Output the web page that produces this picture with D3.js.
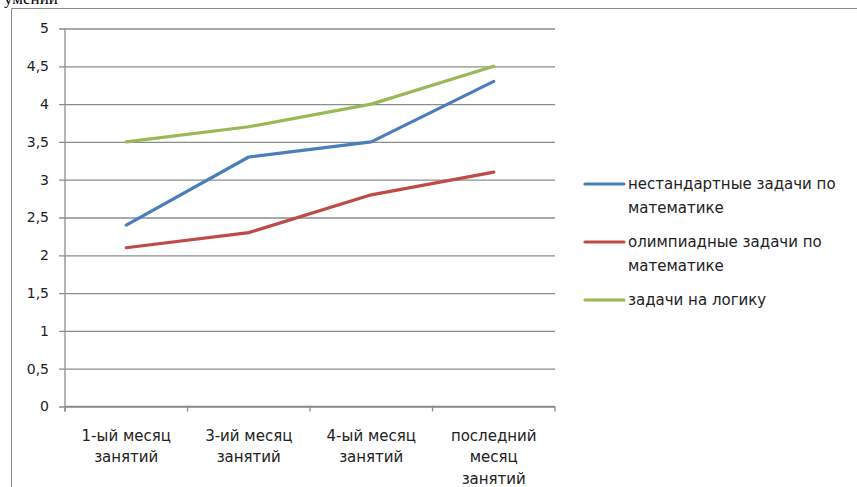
<!DOCTYPE html>
<html>
<head>
<meta charset="utf-8">
<script src="https://cdn.jsdelivr.net/npm/d3@7"></script>
<style>
  html, body { margin: 0; padding: 0; background: #fff; }
  svg { display: block; font-family: "DejaVu Sans", "Noto Sans", sans-serif; }
</style>
</head>
<body>
<svg id="chart" width="857" height="487"></svg>
<script>
// Progress of students across the months of classes
const categories = [["1-ый месяц", "занятий"], ["3-ий месяц", "занятий"], ["4-ый месяц", "занятий"], ["последний", "месяц", "занятий"]];
const seriesNames = [["нестандартные задачи по", "математике"], ["олимпиадные задачи по", "математике"], ["задачи на логику"]];
const nonStandard = [2.4, 3.3, 3.5, 4.3];
const olympiad = [2.1, 2.3, 2.8, 3.1];
const logic = [3.5, 3.7, 4.0, 4.5];
const yTicks = [0, 0.5, 1, 1.5, 2, 2.5, 3, 3.5, 4, 4.5, 5];
const colors = ["#4a7ebb", "#be4b48", "#98b954"];

const svg = d3.select("#chart");

// caption fragment above the frame
svg.append("text")
  .attr("x", 4).attr("y", 4)
  .style("font-family", "'Liberation Serif', serif")
  .style("font-size", "17px")
  .attr("fill", "#000")
  .text("умений");

// outer frame
svg.append("path")
  .attr("d", "M11.5,487 L11.5,8.5 L857,8.5")
  .attr("fill", "none").attr("stroke", "#8c8c8c").attr("stroke-width", 1);

const margin = { left: 65, right: 555, top: 28.5, bottom: 406.5 };
const x = d3.scaleBand().domain(d3.range(categories.length)).range([margin.left, margin.right]);
const y = d3.scaleLinear().domain([0, 5]).range([margin.bottom, margin.top]);

// horizontal grid lines with left tick stubs
const yAxis = d3.axisLeft(y).tickValues(yTicks).tickSize(-(margin.right - margin.left)).tickPadding(16)
  .tickFormat(d => String(d).replace(".", ","));
const gy = svg.append("g").attr("transform", `translate(${margin.left},0)`).call(yAxis);
gy.select(".domain").remove();
gy.selectAll(".tick line").attr("stroke", "#8c8c8c").attr("x1", -6).attr("stroke-width", 1.3);
gy.selectAll(".tick text").attr("fill", "#222").style("font-family", "'DejaVu Sans', sans-serif").style("font-size", "14px");

// vertical axis line
svg.append("line")
  .attr("x1", margin.left).attr("x2", margin.left)
  .attr("y1", margin.top).attr("y2", margin.bottom + 5)
  .attr("stroke", "#8c8c8c").attr("stroke-width", 1.3);

// category axis
const xAxis = d3.axisBottom(x).tickSize(0).tickFormat(() => "");
const gx = svg.append("g").attr("transform", `translate(0,${margin.bottom})`).call(xAxis);
gx.select(".domain").attr("stroke", "#8c8c8c").attr("stroke-width", 1.3).attr("d", `M${margin.left},0H${margin.right}`);
const bounds = d3.range(categories.length + 1).map(i => i < categories.length ? x(i) : x(i - 1) + x.bandwidth());
gx.selectAll(".sep").data(bounds).enter().append("line")
  .attr("x1", d => d).attr("x2", d => d).attr("y1", 0).attr("y2", 5)
  .attr("stroke", "#8c8c8c").attr("stroke-width", 1.3);

const catLabels = svg.append("g");
categories.forEach((lines, i) => {
  const t = catLabels.append("text")
    .attr("x", x(i) + x.bandwidth() / 2)
    .attr("y", margin.bottom + 34)
    .attr("text-anchor", "middle")
    .attr("fill", "#222")
    .style("font-size", "15px");
  lines.forEach((ln, j) => t.append("tspan").attr("x", x(i) + x.bandwidth() / 2).attr("dy", j === 0 ? 0 : 21.5).text(ln));
});

// series lines
const line = d3.line().x((d, i) => x(i) + x.bandwidth() / 2).y(d => y(d));
[nonStandard, olympiad, logic].forEach((vals, k) => {
  svg.append("path")
    .datum(vals)
    .attr("d", line)
    .attr("fill", "none")
    .attr("stroke", colors[k])
    .attr("stroke-width", 3.2)
    .attr("stroke-linejoin", "round")
    .attr("stroke-linecap", "round");
});

// legend
const legendTop = [184, 242, 300];
const legend = svg.append("g");
seriesNames.forEach((lines, k) => {
  const ly = legendTop[k];
  legend.append("line")
    .attr("x1", 585).attr("x2", 624).attr("y1", ly).attr("y2", ly)
    .attr("stroke", colors[k]).attr("stroke-width", 3.2).attr("stroke-linecap", "round");
  const t = legend.append("text").attr("x", 628).attr("y", ly + 5).attr("fill", "#222").style("font-size", "15px");
  lines.forEach((ln, j) => t.append("tspan").attr("x", 628).attr("dy", j === 0 ? 0 : 24).text(ln));
});
</script>
</body>
</html>
